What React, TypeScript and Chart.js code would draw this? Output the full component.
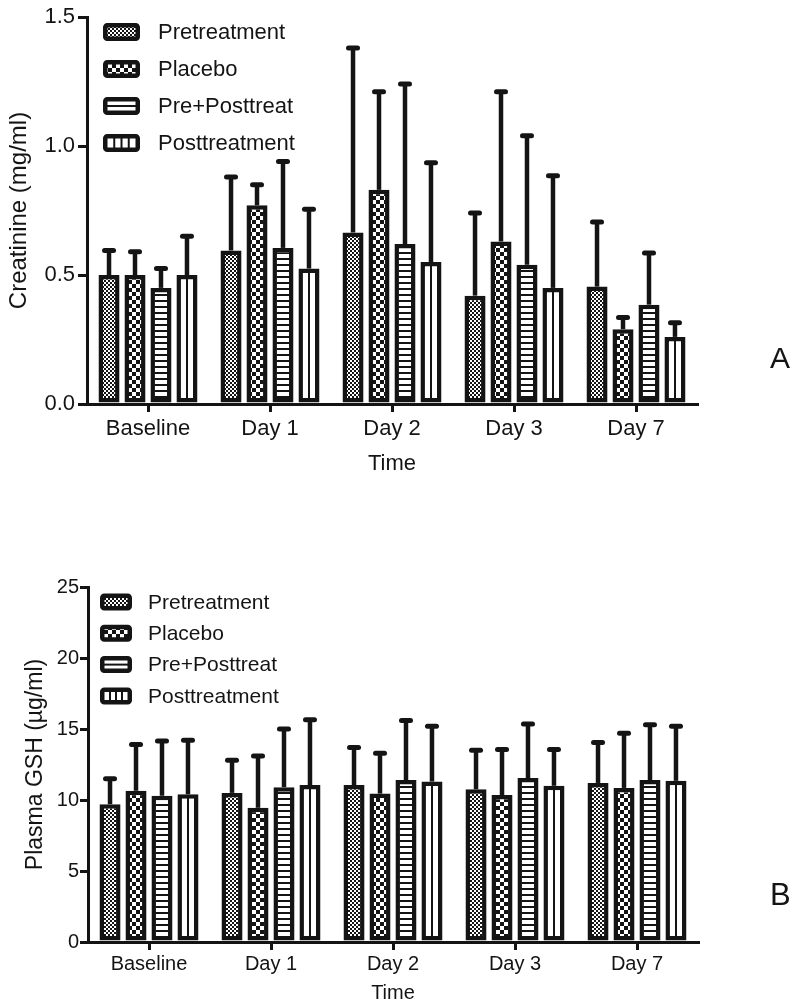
import React, { useEffect, useRef } from 'react';
import { Chart, registerables } from 'chart.js';

Chart.register(...registerables);

const categories = ['Baseline', 'Day 1', 'Day 2', 'Day 3', 'Day 7'];
const seriesNames = ['Pretreatment', 'Placebo', 'Pre+Posttreat', 'Posttreatment'];

// Panel A: Creatinine (mg/ml) — mean and upper end of error bar
const creatPre = [0.5, 0.595, 0.665, 0.42, 0.455];
const creatPreErr = [0.595, 0.88, 1.38, 0.74, 0.705];
const creatPlacebo = [0.5, 0.77, 0.83, 0.63, 0.29];
const creatPlaceboErr = [0.59, 0.85, 1.21, 1.21, 0.335];
const creatPrePost = [0.45, 0.605, 0.62, 0.54, 0.385];
const creatPrePostErr = [0.525, 0.94, 1.24, 1.04, 0.585];
const creatPost = [0.5, 0.525, 0.55, 0.45, 0.26];
const creatPostErr = [0.65, 0.755, 0.935, 0.885, 0.315];

// Panel B: Plasma GSH (µg/ml)
const gshPre = [9.7, 10.5, 11.05, 10.75, 11.2];
const gshPreErr = [11.5, 12.8, 13.7, 13.5, 14.05];
const gshPlacebo = [10.65, 9.45, 10.45, 10.35, 10.85];
const gshPlaceboErr = [13.9, 13.1, 13.3, 13.55, 14.7];
const gshPrePost = [10.3, 10.9, 11.4, 11.55, 11.4];
const gshPrePostErr = [14.15, 15.0, 15.6, 15.35, 15.3];
const gshPost = [10.4, 11.05, 11.3, 11.0, 11.35];
const gshPostErr = [14.2, 15.65, 15.2, 13.55, 15.2];

const creatAxis = { min: 0, max: 1.5, step: 0.5 };
const gshAxis = { min: 0, max: 25, step: 5 };

const INK = '#141414';
const FONT = "'Liberation Sans', Arial, Helvetica, sans-serif";

function tile(size: number, draw: (c: CanvasRenderingContext2D) => void) {
  const cv = document.createElement('canvas');
  cv.width = size;
  cv.height = size;
  const c = cv.getContext('2d')!;
  c.fillStyle = '#ffffff';
  c.fillRect(0, 0, size, size);
  c.fillStyle = INK;
  draw(c);
  return c.createPattern(cv, 'repeat')!;
}

function makePatterns(): (CanvasPattern | string)[] {
  const fine = tile(4, (c) => {
    c.fillRect(0, 0, 2, 2);
    c.fillRect(2, 2, 2, 2);
  });
  const coarse = tile(8, (c) => {
    c.fillRect(0, 0, 4, 4);
    c.fillRect(4, 4, 4, 4);
  });
  const hlines = tile(6, (c) => {
    c.fillRect(0, 0, 6, 2);
  });
  return [fine, coarse, hlines, '#ffffff'];
}

type LegendCfg = { dx: number; dy: number; gap: number; w: number; h: number; tx: number; font: number };

function decorPlugin(errors: number[][], legend: LegendCfg, patterns: (CanvasPattern | string)[]) {
  return {
    id: 'decor',
    afterDatasetsDraw(chart: any) {
      const ctx: CanvasRenderingContext2D = chart.ctx;
      const ys = chart.scales.y;
      ctx.save();
      // center line in Posttreatment bars
      const postMeta = chart.getDatasetMeta(3);
      postMeta.data.forEach((el: any) => {
        const p = el.getProps(['x', 'y', 'base'], true);
        ctx.strokeStyle = INK;
        ctx.lineWidth = 2;
        ctx.beginPath();
        ctx.moveTo(p.x, p.y + 3);
        ctx.lineTo(p.x, p.base - 3);
        ctx.stroke();
      });
      // upper error bars
      errors.forEach((errs, i) => {
        const meta = chart.getDatasetMeta(i);
        meta.data.forEach((el: any, j: number) => {
          const p = el.getProps(['x', 'y'], true);
          const ey = ys.getPixelForValue(errs[j]);
          ctx.strokeStyle = INK;
          ctx.lineWidth = 4.5;
          ctx.lineCap = 'butt';
          ctx.beginPath();
          ctx.moveTo(p.x, p.y);
          ctx.lineTo(p.x, ey);
          ctx.stroke();
          ctx.lineWidth = 5;
          ctx.lineCap = 'round';
          ctx.beginPath();
          ctx.moveTo(p.x - 4.5, ey);
          ctx.lineTo(p.x + 4.5, ey);
          ctx.stroke();
        });
      });
      ctx.restore();
    },
    afterDraw(chart: any) {
      const ctx: CanvasRenderingContext2D = chart.ctx;
      const area = chart.chartArea;
      ctx.save();
      seriesNames.forEach((name, i) => {
        const bx = area.left + legend.dx;
        const cy = area.top + legend.dy + i * legend.gap;
        const by = cy - legend.h / 2;
        const w = legend.w;
        const h = legend.h;
        ctx.beginPath();
        if ((ctx as any).roundRect) (ctx as any).roundRect(bx + 2.25, by + 2.25, w - 4.5, h - 4.5, 2);
        else ctx.rect(bx + 2.25, by + 2.25, w - 4.5, h - 4.5);
        ctx.fillStyle = i === 2 || i === 3 ? '#ffffff' : (patterns[i] as any);
        ctx.fill();
        ctx.strokeStyle = INK;
        ctx.lineWidth = 4.5;
        ctx.stroke();
        ctx.lineWidth = 2;
        if (i === 2) {
          ctx.beginPath();
          ctx.moveTo(bx + 3, cy);
          ctx.lineTo(bx + w - 3, cy);
          ctx.stroke();
        }
        if (i === 3) {
          const inner = w - 8;
          for (let k = 1; k < 4; k++) {
            const lx = bx + 4 + (inner * k) / 4;
            ctx.beginPath();
            ctx.moveTo(lx, by + 3);
            ctx.lineTo(lx, by + h - 3);
            ctx.stroke();
          }
        }
        ctx.fillStyle = INK;
        ctx.font = `${legend.font}px ${FONT}`;
        ctx.textBaseline = 'middle';
        ctx.textAlign = 'left';
        ctx.fillText(name, bx + legend.tx, cy + 1);
      });
      ctx.restore();
    },
  };
}

type PanelCfg = {
  values: number[][];
  errors: number[][];
  axis: { min: number; max: number; step: number };
  yTitle: string;
  decimals: number;
  padTop: number;
  padRight: number;
  yWidth: number;
  xHeight: number;
  yTickFont: number;
  yTickLen: number;
  yTickPad: number;
  xTickFont: number;
  xTickLen: number;
  xTickPad: number;
  yTitleFont: number;
  yTitlePad: number;
  xTitleFont: number;
  xTitlePad: number;
  legend: LegendCfg;
};

function buildChart(canvas: HTMLCanvasElement, cfg: PanelCfg) {
  const patterns = makePatterns();
  return new Chart(canvas, {
    type: 'bar',
    data: {
      labels: categories,
      datasets: cfg.values.map((v, i) => ({
        label: seriesNames[i],
        data: v,
        backgroundColor: patterns[i] as any,
        borderColor: INK,
        borderWidth: 4.5,
        borderSkipped: false,
        categoryPercentage: 0.852,
        barPercentage: 0.81,
      })),
    },
    options: {
      responsive: false,
      animation: false,
      devicePixelRatio: 1,
      layout: { padding: { top: cfg.padTop, right: cfg.padRight, bottom: 0, left: 0 } },
      plugins: { legend: { display: false }, tooltip: { enabled: false } },
      scales: {
        x: {
          offset: true,
          grid: {
            display: true,
            drawOnChartArea: false,
            offset: false,
            tickLength: cfg.xTickLen,
            lineWidth: 3,
            color: INK,
          },
          border: { display: true, width: 3, color: INK },
          ticks: { font: { family: FONT, size: cfg.xTickFont }, color: INK, padding: cfg.xTickPad, maxRotation: 0 },
          title: {
            display: true,
            text: 'Time',
            color: INK,
            font: { family: FONT, size: cfg.xTitleFont },
            padding: { top: 0, bottom: cfg.xTitlePad },
          },
          afterFit: (s: any) => {
            s.height = cfg.xHeight;
          },
        },
        y: {
          min: cfg.axis.min,
          max: cfg.axis.max,
          grid: {
            display: true,
            drawOnChartArea: false,
            tickLength: cfg.yTickLen,
            lineWidth: 3,
            color: INK,
          },
          border: { display: true, width: 3, color: INK },
          ticks: {
            stepSize: cfg.axis.step,
            font: { family: FONT, size: cfg.yTickFont },
            color: INK,
            padding: cfg.yTickPad,
            callback: (v: any) => Number(v).toFixed(cfg.decimals),
          },
          title: {
            display: true,
            text: cfg.yTitle,
            color: INK,
            font: { family: FONT, size: cfg.yTitleFont },
            padding: { top: cfg.yTitlePad, bottom: 0 },
          },
          afterFit: (s: any) => {
            s.width = cfg.yWidth;
          },
        },
      },
    },
    plugins: [decorPlugin(cfg.errors, cfg.legend, patterns) as any],
  });
}

const panelA: PanelCfg = {
  values: [creatPre, creatPlacebo, creatPrePost, creatPost],
  errors: [creatPreErr, creatPlaceboErr, creatPrePostErr, creatPostErr],
  axis: creatAxis,
  yTitle: 'Creatinine (mg/ml)',
  decimals: 1,
  padTop: 17,
  padRight: 103,
  yWidth: 87,
  xHeight: 91,
  yTickFont: 22,
  yTickLen: 9,
  yTickPad: 3,
  xTickFont: 22,
  xTickLen: 8,
  xTickPad: 4,
  yTitleFont: 24,
  yTitlePad: 5,
  xTitleFont: 22,
  xTitlePad: 18,
  legend: { dx: 16, dy: 15, gap: 37, w: 37, h: 18, tx: 55, font: 22 },
};

const panelB: PanelCfg = {
  values: [gshPre, gshPlacebo, gshPrePost, gshPost],
  errors: [gshPreErr, gshPlaceboErr, gshPrePostErr, gshPostErr],
  axis: gshAxis,
  yTitle: 'Plasma GSH (µg/ml)',
  decimals: 0,
  padTop: 77,
  padRight: 102,
  yWidth: 88,
  xHeight: 65,
  yTickFont: 20,
  yTickLen: 8,
  yTickPad: 1,
  xTickFont: 20,
  xTickLen: 8,
  xTickPad: 2,
  yTitleFont: 23,
  yTitlePad: 22,
  xTitleFont: 20,
  xTitlePad: 2,
  legend: { dx: 12, dy: 15, gap: 31.3, w: 32, h: 17, tx: 48, font: 21 },
};

function Panel({ cfg, top, height }: { cfg: PanelCfg; top: number; height: number }) {
  const ref = useRef<HTMLCanvasElement>(null);
  useEffect(() => {
    if (!ref.current) return;
    const chart = buildChart(ref.current, cfg);
    return () => chart.destroy();
  }, [cfg]);
  return (
    <canvas
      ref={ref}
      width={800}
      height={height}
      style={{ position: 'absolute', left: 0, top, width: 800, height, display: 'block' }}
    />
  );
}

export default function App() {
  return (
    <div style={{ position: 'absolute', left: 0, top: 0, width: 800, height: 1007, background: '#fff', overflow: 'hidden' }}>
      <Panel cfg={panelA} top={0} height={495} />
      <Panel cfg={panelB} top={510} height={497} />
      <div style={{ position: 'absolute', left: 770, top: 340, fontFamily: FONT, fontSize: 30, lineHeight: '36px', color: INK }}>A</div>
      <div style={{ position: 'absolute', left: 770, top: 877, fontFamily: FONT, fontSize: 31, lineHeight: '36px', color: INK }}>B</div>
    </div>
  );
}
